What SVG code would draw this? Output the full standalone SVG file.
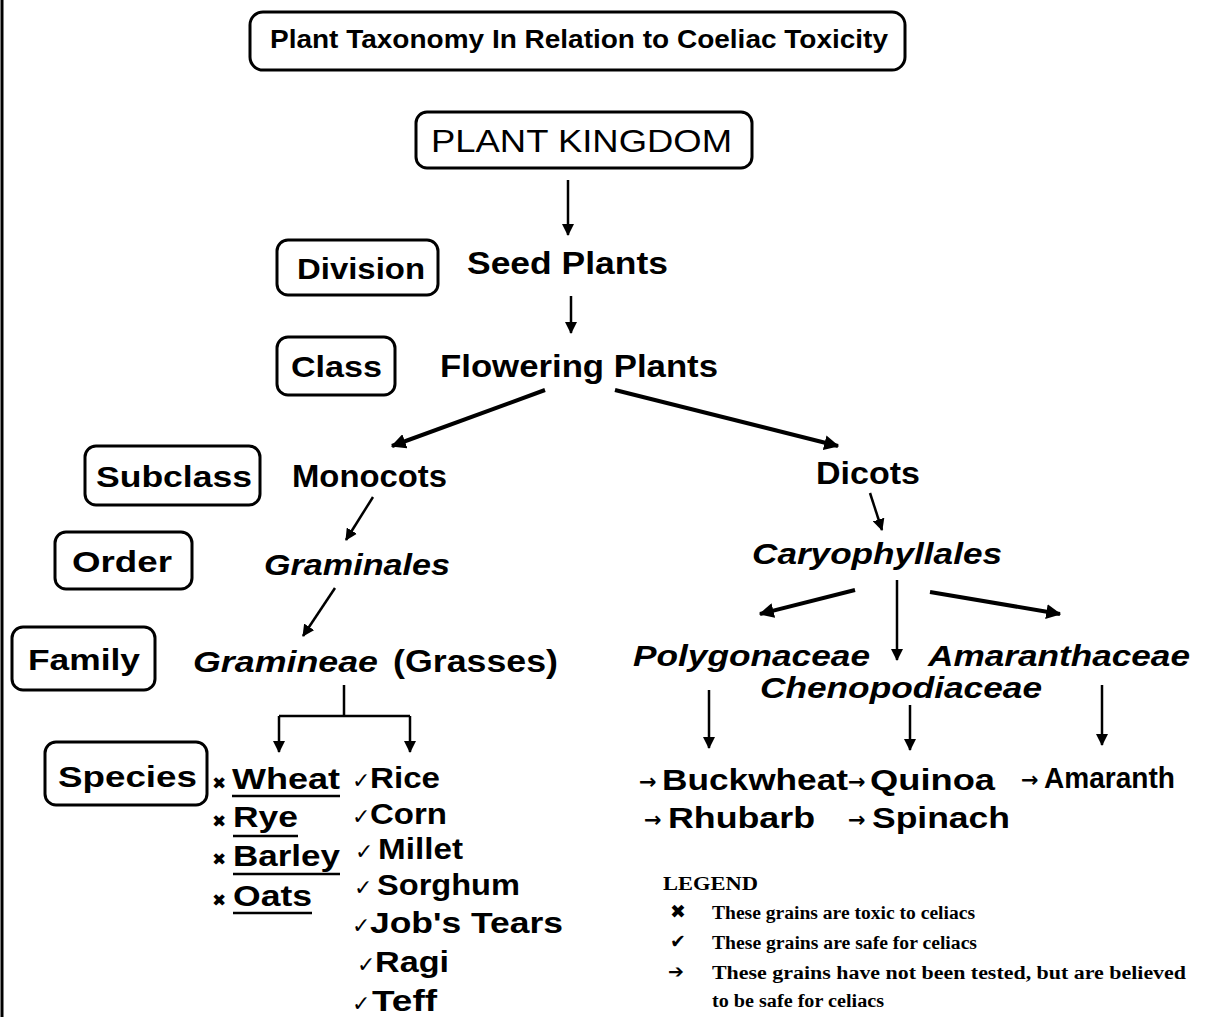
<svg xmlns="http://www.w3.org/2000/svg" width="1219" height="1017" viewBox="0 0 1219 1017">
<defs>
<marker id="ah" viewBox="0 0 12 12" refX="11" refY="6" markerWidth="12" markerHeight="12" markerUnits="userSpaceOnUse" orient="auto">
<path d="M0,0 L12,6 L0,12 z" fill="#000"/>
</marker>
<marker id="ahk" viewBox="0 0 12 12" refX="11" refY="6" markerWidth="15" markerHeight="15" markerUnits="userSpaceOnUse" orient="auto">
<path d="M0,0 L12,6 L0,12 z" fill="#000"/>
</marker>
<style>
.box{fill:#fff;stroke:#000;stroke-width:3}
.lbl{font-family:"Liberation Sans",Arial,sans-serif;font-weight:bold;font-size:30px;fill:#000}
.t{font-family:"Liberation Sans",Arial,sans-serif;font-weight:bold;font-size:31px;fill:#000}
.it{font-family:"Liberation Sans",Arial,sans-serif;font-weight:bold;font-style:italic;font-size:30px;fill:#000}
.sp{font-family:"Liberation Sans",Arial,sans-serif;font-weight:bold;font-size:29px;fill:#000}
.mk{font-family:"DejaVu Sans",sans-serif;font-weight:bold;font-size:17px;fill:#000}
.ck2{font-family:"DejaVu Sans",sans-serif;font-weight:bold;font-size:22px;fill:#000}
.ar{font-family:"DejaVu Sans",sans-serif;font-weight:bold;font-size:21px;fill:#000}
.lg{font-family:"Liberation Serif","Times New Roman",serif;font-weight:bold;font-size:18px;fill:#000}
.lgs{font-family:"DejaVu Sans",sans-serif;font-size:19px;fill:#000}
.c{fill:none;stroke:#000;stroke-width:2.5}
.ck{fill:none;stroke:#000;stroke-width:4}
.ul{stroke:#000;stroke-width:2.5}
</style>
</defs>
<rect width="1219" height="1017" fill="#fff"/>
<line x1="2" y1="0" x2="2" y2="1017" stroke="#000" stroke-width="3"/>

<g id="title">
<rect class="box" x="250" y="12" width="655" height="58" rx="13"/>
<text x="270" y="48" font-family="Liberation Sans, Arial, sans-serif" font-weight="bold" font-size="25" textLength="618" lengthAdjust="spacingAndGlyphs">Plant Taxonomy In Relation to Coeliac Toxicity</text>
</g>

<g id="plant-kingdom">
<rect class="box" x="416" y="112" width="336" height="56" rx="11"/>
<text x="431" y="152" font-family="Liberation Sans, Arial, sans-serif" font-size="32" style="font-weight:500" textLength="301" lengthAdjust="spacingAndGlyphs">PLANT KINGDOM</text>
</g>

<g id="division">
<rect class="box" x="277" y="240" width="161" height="55" rx="11"/>
<text class="lbl" x="297" y="279" textLength="128" lengthAdjust="spacingAndGlyphs">Division</text>
</g>
<g id="seed-plants"><text class="t" x="467" y="274" textLength="201" lengthAdjust="spacingAndGlyphs">Seed Plants</text></g>

<g id="class">
<rect class="box" x="277" y="337" width="118" height="58" rx="11"/>
<text class="lbl" x="291" y="377" textLength="91" lengthAdjust="spacingAndGlyphs">Class</text>
</g>
<g id="flowering-plants"><text class="t" x="440" y="377" textLength="278" lengthAdjust="spacingAndGlyphs">Flowering Plants</text></g>

<g id="subclass">
<rect class="box" x="85" y="446" width="175" height="59" rx="11"/>
<text class="lbl" x="96" y="487" textLength="156" lengthAdjust="spacingAndGlyphs">Subclass</text>
</g>
<g id="monocots"><text class="t" x="292" y="487" textLength="155" lengthAdjust="spacingAndGlyphs">Monocots</text></g>
<g id="dicots"><text class="t" x="816" y="484" textLength="104" lengthAdjust="spacingAndGlyphs">Dicots</text></g>

<g id="order">
<rect class="box" x="55" y="532" width="137" height="57" rx="11"/>
<text class="lbl" x="72" y="572" textLength="100" lengthAdjust="spacingAndGlyphs">Order</text>
</g>
<g id="graminales"><text class="it" x="264" y="575" textLength="186" lengthAdjust="spacingAndGlyphs">Graminales</text></g>
<g id="caryophyllales"><text class="it" x="752" y="564" textLength="250" lengthAdjust="spacingAndGlyphs">Caryophyllales</text></g>

<g id="family">
<rect class="box" x="12" y="627" width="143" height="63" rx="11"/>
<text class="lbl" x="28" y="670" textLength="112" lengthAdjust="spacingAndGlyphs">Family</text>
</g>
<g id="gramineae">
<text class="it" x="193" y="672" textLength="185" lengthAdjust="spacingAndGlyphs">Gramineae</text>
<text class="t" x="393" y="672" font-size="30" textLength="165" lengthAdjust="spacingAndGlyphs">(Grasses)</text>
</g>
<g id="polygonaceae"><text class="it" x="633" y="666" textLength="237" lengthAdjust="spacingAndGlyphs">Polygonaceae</text></g>
<g id="amaranthaceae"><text class="it" x="928" y="666" textLength="262" lengthAdjust="spacingAndGlyphs">Amaranthaceae</text></g>
<g id="chenopodiaceae"><text class="it" x="760" y="698" textLength="282" lengthAdjust="spacingAndGlyphs">Chenopodiaceae</text></g>

<g id="species">
<rect class="box" x="45" y="742" width="162" height="63" rx="11"/>
<text class="lbl" x="58" y="787" textLength="139" lengthAdjust="spacingAndGlyphs">Species</text>
</g>

<g id="toxic-grains">
<text class="mk" x="212" y="789">✖</text><text class="sp" x="232" y="789" textLength="108" lengthAdjust="spacingAndGlyphs">Wheat</text>
<line class="ul" x1="232" y1="796" x2="340" y2="796"/>
<text class="mk" x="212" y="827">✖</text><text class="sp" x="233" y="827" textLength="65" lengthAdjust="spacingAndGlyphs">Rye</text>
<line class="ul" x1="233" y1="836" x2="298" y2="836"/>
<text class="mk" x="212" y="865">✖</text><text class="sp" x="233" y="866" textLength="107" lengthAdjust="spacingAndGlyphs">Barley</text>
<line class="ul" x1="233" y1="874" x2="340" y2="874"/>
<text class="mk" x="212" y="906">✖</text><text class="sp" x="233" y="906" textLength="79" lengthAdjust="spacingAndGlyphs">Oats</text>
<line class="ul" x1="233" y1="913" x2="312" y2="913"/>
</g>

<g id="safe-grains">
<text class="ck2" x="352" y="788">✓</text><text class="sp" x="370" y="788" textLength="70" lengthAdjust="spacingAndGlyphs">Rice</text>
<text class="ck2" x="352" y="824">✓</text><text class="sp" x="370" y="824" textLength="77" lengthAdjust="spacingAndGlyphs">Corn</text>
<text class="ck2" x="355" y="859">✓</text><text class="sp" x="378" y="859" textLength="85" lengthAdjust="spacingAndGlyphs">Millet</text>
<text class="ck2" x="354" y="895">✓</text><text class="sp" x="377" y="895" textLength="143" lengthAdjust="spacingAndGlyphs">Sorghum</text>
<text class="ck2" x="352" y="933">✓</text><text class="sp" x="370" y="933" textLength="193" lengthAdjust="spacingAndGlyphs">Job's Tears</text>
<text class="ck2" x="357" y="972">✓</text><text class="sp" x="375" y="972" textLength="74" lengthAdjust="spacingAndGlyphs">Ragi</text>
<text class="ck2" x="352" y="1011">✓</text><text class="sp" x="372" y="1011" textLength="65" lengthAdjust="spacingAndGlyphs">Teff</text>
</g>

<g id="untested-grains">
<text class="ar" x="639" y="789">→</text><text class="sp" x="662" y="790" textLength="186" lengthAdjust="spacingAndGlyphs">Buckwheat</text>
<text class="ar" x="848" y="789">→</text><text class="sp" x="870" y="790" textLength="125" lengthAdjust="spacingAndGlyphs">Quinoa</text>
<text class="ar" x="1021" y="787">→</text><text class="sp" x="1044" y="788" textLength="131" lengthAdjust="spacingAndGlyphs">Amaranth</text>
<text class="ar" x="644" y="827">→</text><text class="sp" x="668" y="828" textLength="147" lengthAdjust="spacingAndGlyphs">Rhubarb</text>
<text class="ar" x="848" y="827">→</text><text class="sp" x="872" y="828" textLength="138" lengthAdjust="spacingAndGlyphs">Spinach</text>
</g>

<g id="legend">
<text class="lg" x="663" y="890" font-size="19" textLength="95" lengthAdjust="spacingAndGlyphs">LEGEND</text>
<text class="lgs" x="670" y="918">✖</text>
<text class="lg" x="712" y="919" textLength="263" lengthAdjust="spacingAndGlyphs">These grains are toxic to celiacs</text>
<text class="lgs" x="670" y="948">✔</text>
<text class="lg" x="712" y="949" textLength="265" lengthAdjust="spacingAndGlyphs">These grains are safe for celiacs</text>
<text class="lgs" x="668" y="978">➔</text>
<text class="lg" x="712" y="979" textLength="474" lengthAdjust="spacingAndGlyphs">These grains have not been tested, but are believed</text>
<text class="lg" x="712" y="1007" textLength="172" lengthAdjust="spacingAndGlyphs">to be safe for celiacs</text>
</g>

<g id="connectors">
<path class="c" d="M568,180 V235" marker-end="url(#ah)"/>
<path class="c" d="M571,296 V333" marker-end="url(#ah)"/>
<path class="ck" d="M545,390 L392,446" marker-end="url(#ahk)"/>
<path class="ck" d="M615,390 L838,446" marker-end="url(#ahk)"/>
<path class="c" d="M373,497 L346,540" marker-end="url(#ah)"/>
<path class="c" d="M870,493 L882,530" marker-end="url(#ah)"/>
<path class="c" d="M335,588 L303,636" marker-end="url(#ah)"/>
<path class="ck" d="M855,590 L760,614" marker-end="url(#ahk)"/>
<path class="c" d="M897,580 V660" marker-end="url(#ah)"/>
<path class="ck" d="M930,592 L1060,614" marker-end="url(#ahk)"/>
<path class="c" d="M709,690 V748" marker-end="url(#ah)"/>
<path class="c" d="M910,705 V750" marker-end="url(#ah)"/>
<path class="c" d="M1102,685 V745" marker-end="url(#ah)"/>
<path class="c" d="M344,685 V716 M279,716 H410"/>
<path class="c" d="M279,716 V752" marker-end="url(#ah)"/>
<path class="c" d="M410,716 V752" marker-end="url(#ah)"/>
</g>
</svg>
